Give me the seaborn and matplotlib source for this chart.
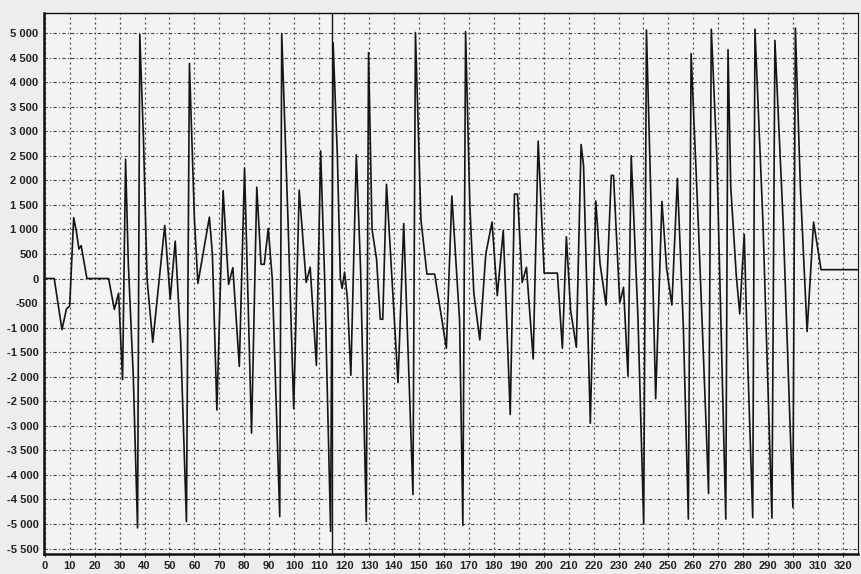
import matplotlib
matplotlib.use("Agg")
import matplotlib.pyplot as plt
import seaborn as sns
import pandas as pd

# signal vertices (sample index, amplitude)
sample = [0, 3.8, 6.9, 8.7, 10.0, 11.6, 12.7, 13.7, 14.6, 16.9, 25.6, 27.9, 29.6, 31.2, 32.4,
          33.5, 35.5, 37.2, 38.1, 39.6, 41.0, 43.3, 48.1, 50.3, 52.3, 54.5, 56.8, 58.0,
          60.0, 61.4, 66.0, 67.2, 69.0, 71.5, 73.7, 75.4, 78.0, 80.1, 82.9, 85.0, 86.7,
          88.0, 89.6, 91.2, 94.2, 95.0, 97.5, 99.8, 102.0, 104.8, 106.4, 108.9, 110.6,
          112.2, 114.6, 115.6, 117.3, 118.5, 119.2, 120.2, 121.3, 122.7, 124.9, 126.6,
          128.9, 129.8, 131.2, 133.0, 134.5, 135.5, 137.0, 141.6, 143.9, 147.6, 148.6,
          150.8, 153.2, 156.3, 161.0, 163.2, 166.3, 167.6, 168.7, 170.4, 172.0, 174.4,
          176.8, 179.3, 181.4, 183.8, 186.6, 188.3, 189.5, 191.4, 193.1, 195.8, 197.8,
          200.2, 205.5, 207.5, 209.1, 210.8, 213.1, 215.0, 216.0, 218.7, 220.9, 222.6,
          225.0, 227.1, 228.0, 230.5, 232.0, 233.8, 235.1, 237.8, 240.1, 241.2, 243.0,
          244.9, 247.4, 249.3, 251.4, 253.6, 256.0, 258.0, 259.1, 262.0, 265.2, 266.1,
          267.2, 269.4, 273.0, 273.9, 275.0, 277.2, 278.6, 280.4, 281.8, 283.8, 284.7,
          287.9, 291.5, 292.7, 296.0, 299.9, 300.9, 302.9, 305.6, 308.2, 311.2, 326.0]
amplitude = [0, 0, -1040, -620, -560, 1240, 950, 600, 670, 0, 0, -630, -300, -2060, 2430,
             300, -2000, -5080, 4970, 2800, 0, -1300, 1080, -420, 760, -1300, -4950, 4380,
             1200, -100, 1250, 500, -2680, 1790, -120, 220, -1790, 2250, -3150, 1860, 290,
             290, 1020, 0, -4850, 4990, 1200, -2650, 1800, -80, 230, -1770, 2600,
             0, -5150, 4800, 2500, 0, -200, 130, -400, -1970, 2520, 200,
             -4950, 4600, 1000, 400, -830, -830, 1920, -2120, 1120, -4400, 5010,
             1200, 90, 90, -1420, 1680, -860, -5030, 5030, 1500, -300, -1250,
             500, 1150, -350, 980, -2770, 1720, 1720, -80, 230, -1640, 2800,
             110, 110, -1420, 850, -650, -1400, 2730, 2300, -2950, 1580, 300,
             -540, 2100, 2100, -500, -180, -1990, 2500, -800, -5000, 5060, 1600,
             -2450, 1570, 200, -540, 2040, -1000, -4900, 4580, 1100, -3100, -4380,
             5080, 2500, -4900, 4660, 1860, 70, -720, 900, -1700, -4870, 5080,
             1150, -4880, 4850, 1150, -4660, 5100, 1860, -1080, 1150, 180, 180]

cursor_x = 115.3

x_ticks = list(range(0, 321, 10))
y_ticks = list(range(-5500, 5001, 500))
y_tick_labels = [f"{v:,}".replace(",", " ") for v in y_ticks]

df = pd.DataFrame({"sample": sample, "amplitude": amplitude})

sns.set_theme(style="ticks")
plt.rcParams["font.family"] = ["Liberation Sans", "DejaVu Sans"]

fig = plt.figure(figsize=(8.61, 5.74), dpi=100, facecolor="#ededed")
ax = fig.add_axes([0.0511, 0.035, 0.9454, 0.9425])
ax.set_facecolor("#f3f3f3")

sns.lineplot(data=df, x="sample", y="amplitude", sort=False, estimator=None,
             color="#151515", linewidth=1.2, ax=ax, zorder=3)
ax.axvline(cursor_x, color="#151515", linewidth=1.0, zorder=3)

ax.set_xlim(-0.3, 326)
ax.set_ylim(-5610, 5410)
ax.set_xticks(x_ticks)
ax.set_xticklabels([str(v) for v in x_ticks], fontsize=8, fontweight="bold", color="#222222")
ax.set_yticks(y_ticks)
ax.set_yticklabels(y_tick_labels, fontsize=8, fontweight="bold", color="#222222")
ax.tick_params(axis="x", length=2, width=0.8, pad=3, color="#333333")
ax.tick_params(axis="y", length=0, pad=4)

ax.grid(axis="y", color="#444444", linestyle=(0, (3, 2, 1, 2)), linewidth=0.8, zorder=1)
ax.grid(axis="x", color="#444444", linestyle=(0, (1.5, 2.5)), linewidth=0.9, zorder=1)

ax.set_xlabel("")
ax.set_ylabel("")
for side, lw in [("left", 1.8), ("bottom", 1.8), ("top", 1.0), ("right", 0.8)]:
    ax.spines[side].set_visible(True)
    ax.spines[side].set_linewidth(lw)
    ax.spines[side].set_color("#111111")

fig.savefig("out.png", dpi=100, facecolor=fig.get_facecolor())
